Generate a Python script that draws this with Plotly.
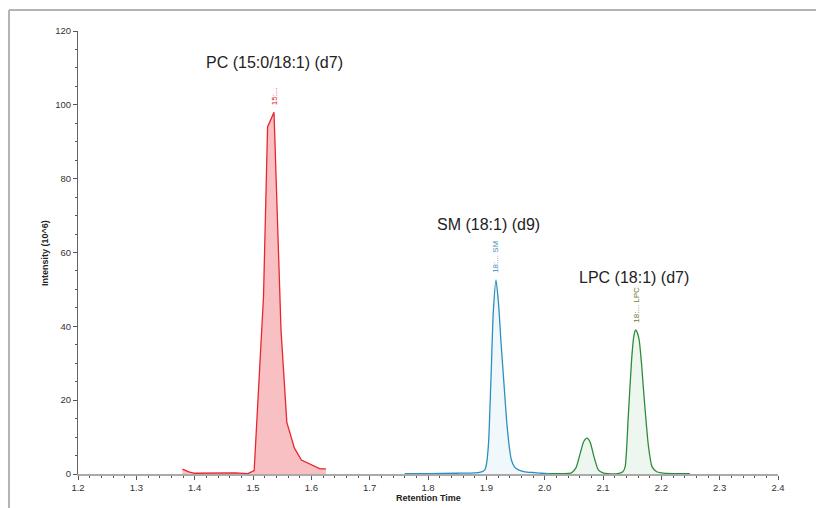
import plotly.graph_objects as go

# PC (15:0/18:1) (d7) - red
pc_rt = [1.379, 1.390, 1.400, 1.420, 1.440, 1.455, 1.470, 1.491, 1.502, 1.518, 1.525, 1.536,
         1.548, 1.558, 1.571, 1.583, 1.603, 1.615, 1.625]
pc_int = [1.3, 0.6, 0.2, 0.2, 0.3, 0.4, 0.3, 0.1, 0.9, 48, 94, 98,
          39, 14, 7, 3.8, 2.3, 1.4, 1.4]

# SM (18:1) (d9) - blue
sm_rt = [1.760, 1.800, 1.850, 1.880, 1.890, 1.895, 1.898, 1.901, 1.904, 1.908, 1.912, 1.9166,
         1.921, 1.925, 1.930, 1.935, 1.940, 1.943, 1.948, 1.955, 1.966, 1.980, 1.995, 2.009]
sm_int = [0.1, 0.1, 0.2, 0.3, 0.5, 0.8, 1.3, 3.5, 9.0, 26, 44, 52.6,
          46, 36, 25, 14, 6.5, 3.8, 2.0, 1.1, 0.6, 0.4, 0.2, 0.1]

# LPC (18:1) (d7) - green (minor peak + main peak)
lpc_rt = [2.009, 2.030, 2.046, 2.054, 2.061, 2.067, 2.0726, 2.078, 2.083, 2.088, 2.092, 2.100,
          2.108, 2.125, 2.134, 2.138, 2.143, 2.149, 2.153, 2.156, 2.159, 2.162, 2.166, 2.169,
          2.174, 2.178, 2.184, 2.192, 2.200, 2.220, 2.249]
lpc_int = [0.1, 0.1, 0.3, 1.8, 5.6, 8.8, 9.7, 8.6, 5.6, 2.8, 1.1, 0.3,
           0.1, 0.1, 0.6, 2.0, 14.6, 30.9, 37.5, 39.0, 38.2, 36.3, 30.0, 23.7,
           14.0, 7.4, 2.0, 0.6, 0.3, 0.1, 0.1]

peak_names = ["PC (15:0/18:1) (d7)", "SM (18:1) (d9)", "LPC (18:1) (d7)"]
peak_label_x = [1.537, 1.903, 2.153]
peak_label_y = [111.6, 67.5, 53.1]
short_tags = ["15:...", "18:... SM", "18:... LPC"]
tag_x = [1.536, 1.9166, 2.156]
tag_y = [98, 52.6, 39.0]

line_colors = ["#e8262e", "#2b90c0", "#2e8b3c"]
fill_colors = ["rgba(242,140,146,0.55)", "rgba(214,236,246,0.35)", "rgba(205,232,208,0.35)"]
tag_colors = ["#d9242c", "#4a8fb8", "#6a7d2a"]

fig = go.Figure()
for rt, inten, lc, fc in [(pc_rt, pc_int, line_colors[0], fill_colors[0]),
                          (sm_rt, sm_int, line_colors[1], fill_colors[1]),
                          (lpc_rt, lpc_int, line_colors[2], fill_colors[2])]:
    fig.add_trace(go.Scatter(x=rt, y=inten, mode="lines", fill="tozeroy",
                             line=dict(color=lc, width=1.3, shape="linear" if lc == line_colors[0] else "spline", smoothing=0.6),
                             fillcolor=fc, showlegend=False, hoverinfo="skip"))

for name, x, y in zip(peak_names, peak_label_x, peak_label_y):
    fig.add_annotation(x=x, y=y, text=name, showarrow=False,
                       font=dict(family="Liberation Sans, Arial", size=16, color="#222222"))

for tag, x, y, c in zip(short_tags, tag_x, tag_y, tag_colors):
    fig.add_annotation(x=x, y=y, text=tag, showarrow=False, textangle=-90,
                       yanchor="bottom", yshift=5,
                       font=dict(family="Liberation Sans, Arial", size=8, color=c))

# axis titles
fig.add_annotation(xref="paper", yref="paper", x=0.501, y=-0.0545, text="<b>Retention Time</b>",
                   xanchor="center", yanchor="middle",
                   showarrow=False, font=dict(family="Liberation Sans, Arial", size=9, color="#222222"))
fig.add_annotation(xref="paper", yref="paper", x=-0.047, y=0.499, text="<b>Intensity (10^6)</b>",
                   xanchor="center", yanchor="middle",
                   showarrow=False, textangle=-90,
                   font=dict(family="Liberation Sans, Arial", size=9, color="#222222"))

# outer panel frame (top and left edges)
fig.add_shape(type="line", xref="paper", yref="paper", x0=-0.0986, x1=1.06, y0=1.0474, y1=1.0474,
              line=dict(color="#b4b4b4", width=2))
fig.add_shape(type="line", xref="paper", yref="paper", x0=-0.0986, x1=-0.0986, y0=1.0474, y1=-0.1,
              line=dict(color="#b4b4b4", width=2))

tick_font = dict(family="Liberation Sans, Arial", size=9.5, color="#333333")
fig.update_xaxes(range=[1.2, 2.4], dtick=0.1, tick0=1.2, showgrid=False, zeroline=False,
                 showline=True, linecolor="#aaaaaa", linewidth=2, automargin=False,
                 ticks="outside", ticklen=4, tickcolor="#555555", tickwidth=1,
                 minor=dict(dtick=0.02, tick0=1.2, ticks="outside", ticklen=2, tickcolor="#555555", showgrid=False),
                 tickfont=tick_font, tickformat=".1f")
fig.update_yaxes(range=[0, 120], dtick=20, showgrid=False, zeroline=False,
                 showline=True, linecolor="#666666", linewidth=1, automargin=False,
                 ticks="outside", ticklen=4, tickcolor="#555555", tickwidth=1,
                 minor=dict(dtick=5, ticks="outside", ticklen=2, tickcolor="#555555", showgrid=False),
                 tickfont=tick_font)

fig.update_layout(width=816, height=508, margin=dict(l=78, r=38, t=31, b=34),
                  paper_bgcolor="white", plot_bgcolor="white")
fig.write_html("out.html")
